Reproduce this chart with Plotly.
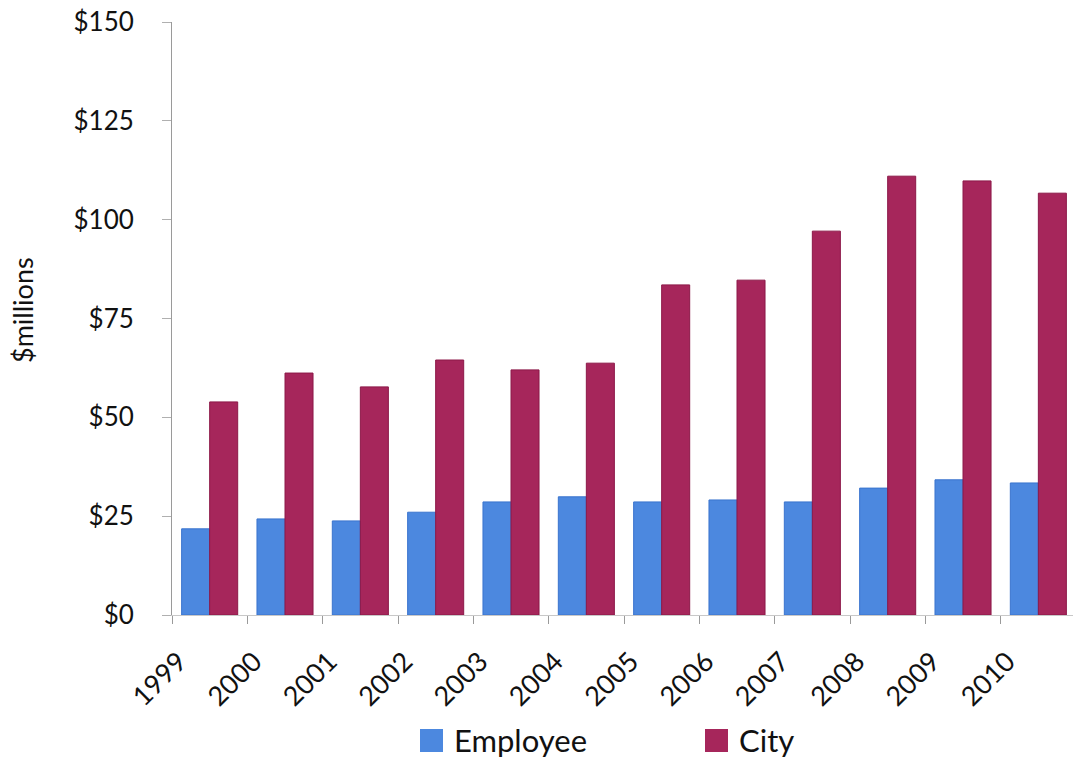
import plotly.graph_objects as go

# Annual contributions, $ millions
years = ["1999", "2000", "2001", "2002", "2003", "2004",
         "2005", "2006", "2007", "2008", "2009", "2010"]
employee = [21.8, 24.3, 23.8, 26.0, 28.6, 29.9, 28.6, 29.1, 28.6, 32.1, 34.2, 33.4]
city = [53.9, 61.2, 57.7, 64.5, 62.0, 63.7, 83.5, 84.7, 97.1, 111.0, 109.8, 106.7]

y_ticks = [0, 25, 50, 75, 100, 125, 150]

FONT = "Lato, 'Open Sans', sans-serif"
BLUE, BLUE_EDGE = "#4C88DF", "#3A74CE"
RED, RED_EDGE = "#A6265B", "#8C1848"

fig = go.Figure()
fig.add_trace(go.Bar(x=years, y=employee, name="Employee",
                     marker=dict(color=BLUE, line=dict(color=BLUE_EDGE, width=1)),
                     showlegend=False))
fig.add_trace(go.Bar(x=years, y=city, name="City",
                     marker=dict(color=RED, line=dict(color=RED_EDGE, width=1)),
                     showlegend=False))

W, H = 1073, 759
ML, MT, MB, MR = 172, 22, 144, 0
pw = W - ML - MR

fig.update_layout(
    width=W, height=H,
    margin=dict(l=ML, r=MR, t=MT, b=MB),
    paper_bgcolor="white", plot_bgcolor="white",
    barmode="group", bargap=0.256, bargroupgap=0,
    font=dict(family=FONT, size=26, color="#111111"),
    xaxis=dict(
        type="category", range=[-0.5, 11.46],
        tickangle=-45, tickson="boundaries",
        ticks="outside", ticklen=8, tickcolor="#9a9a9a",
        showline=True, linecolor="#c8c8c8", linewidth=1,
        showgrid=False, zeroline=False,
        ticklabelshift=-31, ticklabelstandoff=19,
        tickfont=dict(size=27),
    ),
    yaxis=dict(
        range=[0, 150], tickvals=y_ticks,
        ticktext=["$" + str(v) for v in y_ticks],
        ticks="outside", ticklen=9, tickcolor="#b0b0b0",
        showline=True, linecolor="#9a9a9a", linewidth=1,
        showgrid=False, zeroline=False,
        ticklabelstandoff=23,
        tickfont=dict(size=26),
    ),
)

# Y-axis title
fig.add_annotation(text="$millions", xref="paper", yref="paper",
                   x=(22 - ML) / pw, y=(H - MB - 310) / (H - MT - MB),
                   textangle=-90, showarrow=False,
                   font=dict(size=27, family=FONT, color="#111111"),
                   xanchor="center", yanchor="middle")

# Legend drawn as swatches + labels below the axis
ph = H - MT - MB
def px_x(v):
    return (v - ML) / pw
def px_y(v):
    return (H - MB - v) / ph

legend_items = [("Employee", BLUE, 420, 455), ("City", RED, 705, 740)]
for label, color, sx, tx in legend_items:
    fig.add_shape(type="rect", xref="paper", yref="paper",
                  x0=px_x(sx), x1=px_x(sx + 23), y0=px_y(752), y1=px_y(729),
                  fillcolor=color, line=dict(width=0))
    fig.add_annotation(text=label, xref="paper", yref="paper",
                       x=px_x(tx - 3), y=px_y(740), showarrow=False,
                       xanchor="left", yanchor="middle",
                       font=dict(size=31, family=FONT, color="#111111"))

fig.write_html("out.html")
